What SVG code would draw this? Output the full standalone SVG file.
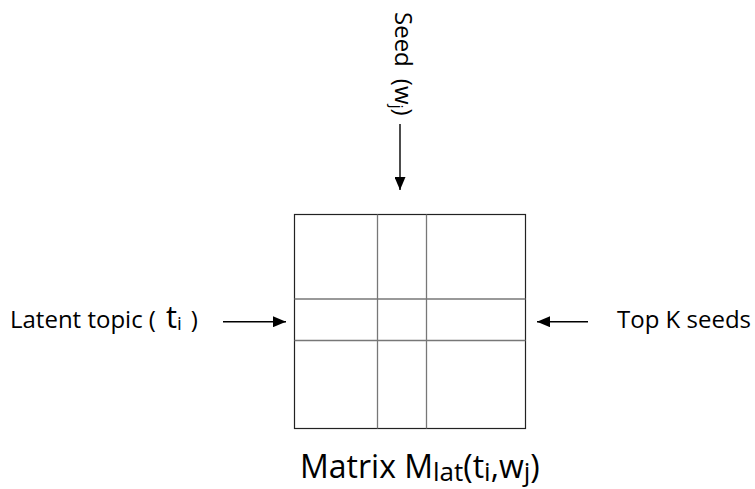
<svg xmlns="http://www.w3.org/2000/svg" width="755" height="489" viewBox="0 0 755 489">
<style>
text{font-family:"Open Sans","Noto Sans","Liberation Sans",sans-serif;fill:#000}
.lbl{font-size:24px}
.big{font-size:32px}
.outer{fill:none;stroke:#222;stroke-width:1.2}
.inner{stroke:#777;stroke-width:1.3}
.conn{stroke:#000;stroke-width:1.4;fill:none}
</style>
<defs>
<marker id="ah" viewBox="0 0 13 11" refX="13" refY="5.5" markerWidth="13" markerHeight="11" markerUnits="userSpaceOnUse" orient="auto">
<path d="M0,0 L13,5.5 L0,11 Z" fill="#000"/>
</marker>
</defs>
<rect width="755" height="489" fill="#fff"/>
<g id="matrix">
<rect class="outer" x="294.5" y="214.5" width="231" height="214"/>
<line class="inner" x1="377.5" y1="214.5" x2="377.5" y2="428.5"/>
<line class="inner" x1="426.5" y1="214.5" x2="426.5" y2="428.5"/>
<line class="inner" x1="294.5" y1="299" x2="525.5" y2="299"/>
<line class="inner" x1="294.5" y1="340.5" x2="525.5" y2="340.5"/>
</g>
<g id="seed">
<text class="lbl" transform="translate(395,12) rotate(90)">Seed<tspan dx="12">(w</tspan><tspan font-size="16" dy="4">j</tspan><tspan dy="-4">)</tspan></text>
</g>
<g id="latent">
<text class="lbl" x="10" y="328">Latent topic (<tspan dx="10" font-size="31">t</tspan><tspan font-size="19" dy="2">i</tspan><tspan dx="9" dy="-2">)</tspan></text>
</g>
<g id="topk">
<text class="lbl" x="617" y="328">Top K seeds</text>
</g>
<g id="caption">
<text class="big" x="300" y="478">Matrix M<tspan font-size="26" dy="3">lat</tspan><tspan dy="-3">(t</tspan><tspan font-size="26" dy="3">i</tspan><tspan dy="-3">,w</tspan><tspan font-size="26" dy="3">j</tspan><tspan dy="-3">)</tspan></text>
</g>
<g id="connectors">
<line class="conn" x1="400" y1="124" x2="400" y2="190" marker-end="url(#ah)"/>
<line class="conn" x1="223" y1="321.7" x2="286" y2="321.7" marker-end="url(#ah)"/>
<line class="conn" x1="588" y1="321.7" x2="537" y2="321.7" marker-end="url(#ah)"/>
</g>
</svg>
